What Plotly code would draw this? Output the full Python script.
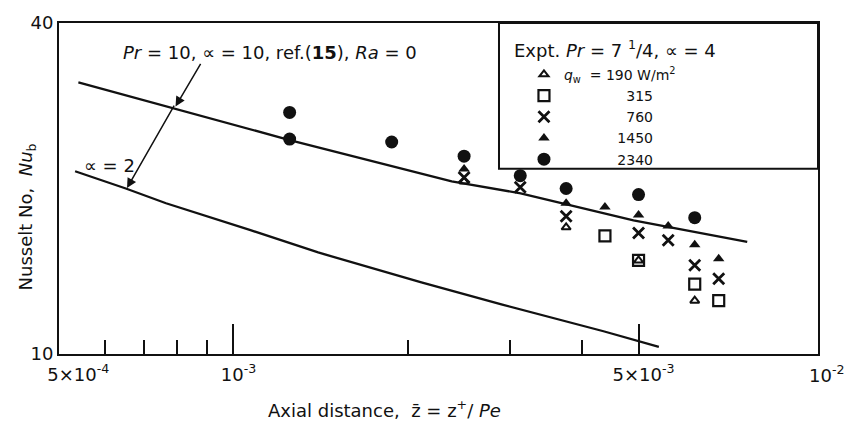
import plotly.graph_objects as go

# ---- Experimental data: Pr = 7 1/4, alpha = 4; series by wall heat flux q_w (W/m^2)
zbar_190 = [2.5e-3, 3.75e-3, 5.0e-3, 6.25e-3]
nu_190 = [20.6, 17.0, 14.8, 12.5]

zbar_315 = [4.375e-3, 5.0e-3, 6.25e-3, 6.875e-3]
nu_315 = [16.4, 14.8, 13.4, 12.5]

zbar_760 = [2.5e-3, 3.125e-3, 3.75e-3, 5.0e-3, 5.625e-3, 6.25e-3, 6.875e-3]
nu_760 = [20.95, 20.1, 17.8, 16.6, 16.1, 14.5, 13.7]

zbar_1450 = [2.5e-3, 3.75e-3, 4.375e-3, 5.0e-3, 5.625e-3, 6.25e-3, 6.875e-3]
nu_1450 = [21.7, 18.8, 18.5, 17.9, 17.1, 15.8, 14.9]

zbar_2340 = [1.25e-3, 1.25e-3, 1.875e-3, 2.5e-3, 3.125e-3, 3.75e-3, 5.0e-3, 6.25e-3]
nu_2340 = [27.5, 24.6, 24.3, 22.9, 21.1, 20.0, 19.5, 17.7]

# ---- Theory curves (Pr = 10, ref. 15, Ra = 0)
alpha10_z = [5.4e-4, 7.8e-4, 1.25e-3, 2.38e-3, 3.13e-3, 4.9e-3, 7.7e-3]
alpha10_nu = [31.2, 28.1, 24.5, 20.6, 19.6, 17.5, 16.0]

alpha2_z = [5.33e-4, 6.52e-4, 7.65e-4, 1.07e-3, 1.40e-3, 2.11e-3, 2.91e-3, 4.35e-3, 5.42e-3]
alpha2_nu = [21.5, 20.0, 18.8, 16.8, 15.3, 13.5, 12.3, 11.0, 10.3]

# ---- Axis ticks
x_tickvals = [5e-4, 1e-3, 5e-3]
x_ticktext = ["\u00a0" * 5 + "5×10<sup>-4</sup>", "10<sup>-3</sup>", "5×10<sup>-3</sup>"]
x_end_label = "10<sup>-2</sup>"          # label at the right end of the axis (1e-2)
x_minor_tickvals = [6e-4, 7e-4, 8e-4, 9e-4, 2e-3, 3e-3, 4e-3]
y_tickvals = [10, 40]
y_ticktext = ["10", "40"]

legend_names = [
    "<i>q</i><sub>w</sub>  = 190 W/m<sup>2</sup>",
    "\u00a0" * 14 + "315",
    "\u00a0" * 14 + "760",
    "\u00a0" * 12 + "1450",
    "\u00a0" * 12 + "2340",
]

FONT = "DejaVu Sans, Liberation Sans, sans-serif"
BLACK = "#111111"

fig = go.Figure()

# theory lines
fig.add_trace(go.Scatter(x=alpha10_z, y=alpha10_nu, mode="lines",
                         line=dict(color=BLACK, width=2.3), showlegend=False, hoverinfo="skip"))
fig.add_trace(go.Scatter(x=alpha2_z, y=alpha2_nu, mode="lines",
                         line=dict(color=BLACK, width=2.3), showlegend=False, hoverinfo="skip"))

series = [
    (zbar_190, nu_190, "triangle-up-open", 8, 2),
    (zbar_315, nu_315, "square-open", 11, 2.2),
    (zbar_760, nu_760, "x-thin-open", 11, 2.8),
    (zbar_1450, nu_1450, "triangle-up", 10, 0),
    (zbar_2340, nu_2340, "circle", 13, 0),
]
for (xs, ys, sym, size, lw), name in zip(series, legend_names):
    fig.add_trace(go.Scatter(
        x=xs, y=ys, mode="markers", name=name,
        marker=dict(symbol=sym, size=size, color=BLACK,
                    line=dict(color=BLACK, width=lw)),
    ))

fig.update_layout(
    width=848, height=428, autosize=False,
    margin=dict(l=59, r=30, t=13, b=74),
    paper_bgcolor="white", plot_bgcolor="white",
    font=dict(family=FONT, size=18, color=BLACK),
    showlegend=True,
    legend=dict(
        x=0.6126, xanchor="left", y=0.892, yanchor="top",
        borderwidth=0, bgcolor="rgba(0,0,0,0)",
        font=dict(family=FONT, size=14, color=BLACK),
        tracegroupgap=0,
        itemwidth=30,
    ),
    xaxis=dict(
        type="log", range=[-3.30103, -1.9914],
        showline=True, linewidth=2, linecolor=BLACK, mirror=True,
        showgrid=False, zeroline=False,
        tickmode="array", tickvals=x_tickvals, ticktext=x_ticktext,
        ticks="inside", ticklen=30, tickwidth=1.5, tickcolor=BLACK,
        ticklabelshift=5, ticklabelstandoff=3,
        tickfont=dict(family=FONT, size=18, color=BLACK),
        minor=dict(tickmode="array", tickvals=x_minor_tickvals,
                   ticks="inside", ticklen=14, tickwidth=1.5, tickcolor=BLACK,
                   showgrid=False),
    ),
    yaxis=dict(
        type="log", range=[1, 1.60206],
        showline=True, linewidth=2, linecolor=BLACK, mirror=True,
        showgrid=False, zeroline=False,
        tickmode="array", tickvals=y_tickvals, ticktext=y_ticktext,
        ticks="", tickfont=dict(family=FONT, size=18, color=BLACK),
    ),
    shapes=[
        # legend box
        dict(type="rect", xref="paper", yref="paper", x0=0.5797, x1=1.0, y0=0.560, y1=1.0,
             line=dict(color=BLACK, width=2), fillcolor="white", layer="above"),
    ],
)

annotations = [
    # right-end axis label (10^-2)
    dict(text=x_end_label, xref="paper", yref="paper", x=1.0, y=0, xshift=8, yshift=-6,
         showarrow=False, font=dict(size=18), xanchor="center", yanchor="top"),
    # legend heading
    dict(text="Expt. <i>Pr</i> = 7 <sup>1</sup>/4, ∝ = 4", xref="paper", yref="paper",
         x=(512 - 59) / 759, y=(354 - 40) / 341, showarrow=False, font=dict(size=18),
         xanchor="left", yanchor="middle"),
    # axis titles
    dict(text="Axial distance,  z\u0304 = z<sup>+</sup>/ <i>Pe</i>", xref="paper", yref="paper",
         x=(384 - 59) / 759, y=-0.165, showarrow=False, font=dict(size=18),
         xanchor="center", yanchor="middle"),
    dict(text="Nusselt No,  <i>Nu</i><sub>b</sub>", xref="paper", yref="paper",
         x=-0.042, y=0.413, showarrow=False, textangle=-90, font=dict(size=18),
         xanchor="center", yanchor="middle"),
    # curve labels
    dict(text="<i>Pr</i> = 10, ∝ = 10, ref.(<b>15</b>), <i>Ra</i> = 0", xref="paper", yref="paper",
         x=(270 - 59) / 759, y=(354 - 43) / 341, showarrow=False, font=dict(size=18),
         xanchor="center", yanchor="middle"),
    dict(text="∝ = 2", xref="paper", yref="paper",
         x=(109 - 59) / 759, y=(354 - 160) / 341, showarrow=False, font=dict(size=18),
         xanchor="center", yanchor="middle"),
    # arrows
    dict(text="", xref="paper", yref="paper", x=(175.5 - 59) / 759, y=(354 - 99) / 341,
         ax=26, ay=-44, showarrow=True, arrowhead=2, arrowsize=1.3, arrowwidth=1.5,
         arrowcolor=BLACK),
    dict(text="", xref="paper", yref="paper", x=(127 - 59) / 759, y=(354 - 183) / 341,
         ax=48, ay=-84, showarrow=True, arrowhead=2, arrowsize=1.3, arrowwidth=1.5,
         arrowcolor=BLACK),
]
fig.update_layout(annotations=annotations)

fig.write_html("out.html", config={"displayModeBar": False},
               post_script="document.body.style.margin='0px';")
